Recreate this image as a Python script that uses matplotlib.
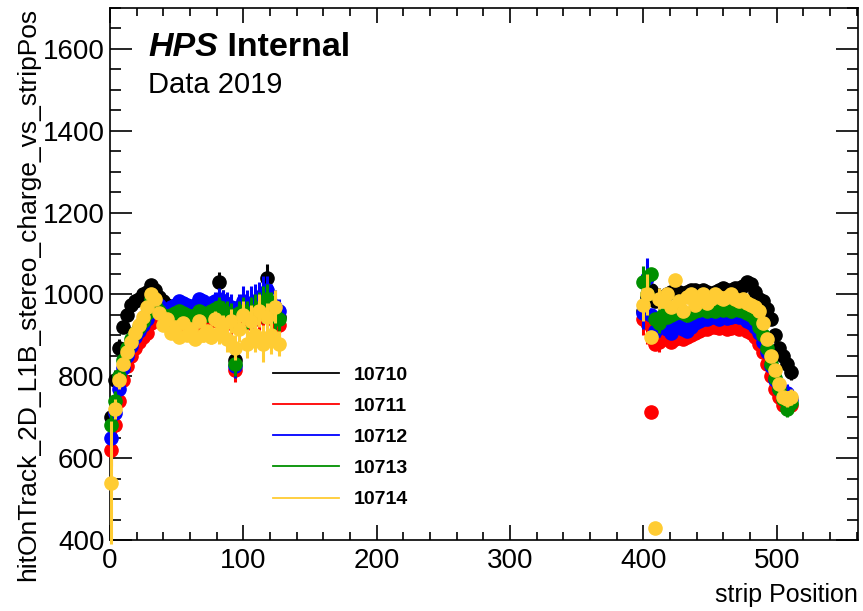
import numpy as np
import matplotlib
matplotlib.use("Agg")
import matplotlib.pyplot as plt
from matplotlib.lines import Line2D
from matplotlib.ticker import MultipleLocator

plt.rcParams['font.family'] = ['Liberation Sans', 'DejaVu Sans']

# run numbers and their colours
runs = ['10710', '10711', '10712', '10713', '10714']
colors = ['black', '#ff0000', '#0000ff', '#009000', '#ffcc33']

# strips (every third strip)
strips_L = list(range(1, 128, 3))      # 43 strips, first half
strips_R = list(range(400, 512, 3))    # 38 strips, second half

# mean charge per strip, left block
black_L = [700, 790, 870, 920, 950, 975, 985, 990, 1000, 1005, 1022, 1010, 995, 985, 975,
           970, 965, 960, 965, 960, 955, 958, 960, 955, 960, 962, 968, 1030, 985, 970,
           955, 840, 960, 965, 955, 960, 965, 970, 985, 1040, 965, 955, 945]
red_L = [620, 680, 740, 790, 825, 850, 870, 885, 895, 905, 930, 945, 940, 935, 930,
         925, 925, 920, 930, 925, 920, 925, 930, 925, 930, 935, 940, 950, 945, 935,
         930, 815, 935, 940, 930, 935, 940, 945, 960, 985, 950, 935, 925]
blue_L = [650, 710, 770, 820, 850, 875, 895, 910, 925, 940, 975, 985, 975, 965, 960,
          970, 975, 985, 980, 975, 970, 975, 990, 985, 975, 980, 985, 990, 985, 975,
          970, 825, 970, 985, 975, 980, 985, 990, 1000, 1010, 980, 970, 960]
green_L = [680, 740, 800, 840, 870, 890, 905, 920, 935, 955, 990, 975, 960, 950, 945,
           950, 955, 960, 955, 950, 945, 950, 960, 955, 950, 960, 965, 970, 960, 955,
           950, 830, 955, 960, 950, 955, 960, 965, 975, 990, 960, 950, 940]
yellow_L = [540, 720, 790, 830, 860, 885, 905, 925, 945, 970, 1000, 990, 955, 925, 940,
            905, 920, 895, 930, 900, 915, 890, 935, 900, 910, 895, 940, 905, 925, 890,
            935, 870, 915, 950, 880, 935, 900, 960, 880, 945, 900, 970, 880]

# mean charge per strip, right block
black_R = [960, 995, 1010, 985, 990, 995, 1000, 1005, 1010, 1005, 1000, 1005, 1010, 1010,
           1005, 1010, 1005, 1000, 1005, 1010, 1015, 1010, 1010, 1015, 1015, 1020, 1030,
           1025, 1005, 990, 985, 965, 940, 900, 870, 850, 830, 810]
red_R = [940, 930, 712, 880, 885, 890, 895, 885, 890, 895, 890, 895, 900, 905, 910, 915,
         915, 920, 920, 918, 920, 915, 918, 920, 915, 920, 910, 905, 895, 880, 860, 830,
         800, 770, 750, 730, 725, 730]
blue_R = [955, 1040, 950, 910, 920, 925, 915, 905, 920, 925, 915, 910, 920, 930, 935, 940,
          940, 945, 945, 940, 945, 942, 945, 948, 945, 945, 935, 930, 920, 905, 885, 860,
          825, 790, 770, 750, 760, 745]
green_R = [1030, 1000, 1050, 940, 930, 950, 945, 950, 955, 960, 955, 950, 955, 960, 962,
           965, 960, 965, 960, 965, 962, 965, 960, 965, 962, 960, 955, 950, 940, 920, 900,
           870, 830, 795, 770, 745, 720, 735]
yellow_R = [975, 1000, 895, 430, 990, 985, 1000, 970, 1035, 985, 960, 995, 1000, 975, 995,
            1000, 980, 990, 1000, 995, 990, 995, 1000, 990, 985, 990, 980, 975, 970, 960,
            930, 890, 850, 815, 780, 750, 745, 750]

# error bar half-lengths (shared by the runs)
err_L = [40, 25, 20, 15, 12, 10, 10, 10, 10, 10, 10, 10, 10, 10, 10, 10, 10, 10, 10, 12,
         12, 12, 12, 15, 15, 15, 20, 25, 25, 30, 30, 30, 30, 35, 35, 40, 40, 40, 45, 35,
         45, 40, 30]
err_R = [40, 50, 8, 8, 25, 15, 15, 15, 15, 12, 12, 10, 10, 10, 10, 10, 10, 10, 10, 10,
         10, 10, 10, 10, 10, 10, 10, 10, 10, 10, 12, 12, 12, 15, 15, 15, 20, 20]
first_err = [30, 40, 35, 40, 150]

left = [black_L, red_L, blue_L, green_L, yellow_L]
right = [black_R, red_R, blue_R, green_R, yellow_R]

fig = plt.figure(figsize=(8.63, 6.11), dpi=100)
ax = fig.add_axes([110 / 863, 1 - 540 / 611, 748 / 863, 532 / 611])

for i in range(len(runs)):
    eL = list(err_L)
    eL[0] = first_err[i]
    ax.errorbar(strips_L, left[i], yerr=eL, fmt='o', color=colors[i], ms=9.5,
                elinewidth=2.2, capsize=0, clip_on=False, zorder=2 + i)
    ax.errorbar(strips_R, right[i], yerr=err_R, fmt='o', color=colors[i], ms=9.5,
                elinewidth=2.2, capsize=0, zorder=2 + i)

ax.set_xlim(0, 561)
ax.set_ylim(400, 1700)
ax.xaxis.set_major_locator(MultipleLocator(100))
ax.xaxis.set_minor_locator(MultipleLocator(20))
ax.yaxis.set_major_locator(MultipleLocator(200))
ax.yaxis.set_minor_locator(MultipleLocator(50))
ax.tick_params(which='both', direction='in', top=True, right=True, labelsize=20, width=1.2)
ax.tick_params(axis='x', which='major', length=11, pad=6)
ax.tick_params(axis='x', which='minor', length=5.5)
ax.tick_params(axis='y', which='major', length=16, pad=4)
ax.tick_params(axis='y', which='minor', length=8)
for s in ax.spines.values():
    s.set_linewidth(1.2)

ax.set_xlabel('strip Position', fontsize=18, loc='right', labelpad=6)
ax.set_ylabel('hitOnTrack_2D_L1B_stereo_charge_vs_stripPos', fontsize=19, loc='top', labelpad=2)

t1 = fig.text(148 / 863, 1 - 56 / 611, 'HPS', fontsize=24.5, fontweight='bold', fontstyle='italic')
ax.annotate(' Internal', xy=(1, 0), xycoords=t1, fontsize=24.5, fontweight='bold', va='bottom')
fig.text(148 / 863, 1 - 93 / 611, 'Data 2019', fontsize=21)

handles = [Line2D([], [], color=c, lw=1.3) for c in colors]
leg = fig.legend(handles, runs, loc='upper left', bbox_to_anchor=(273 / 863, 1 - 366 / 611),
                 frameon=False, prop={'weight': 'bold', 'size': 14}, handlelength=3.4,
                 handletextpad=0.75, labelspacing=0.7, borderpad=0, borderaxespad=0)

fig.savefig('out.png', dpi=100)
